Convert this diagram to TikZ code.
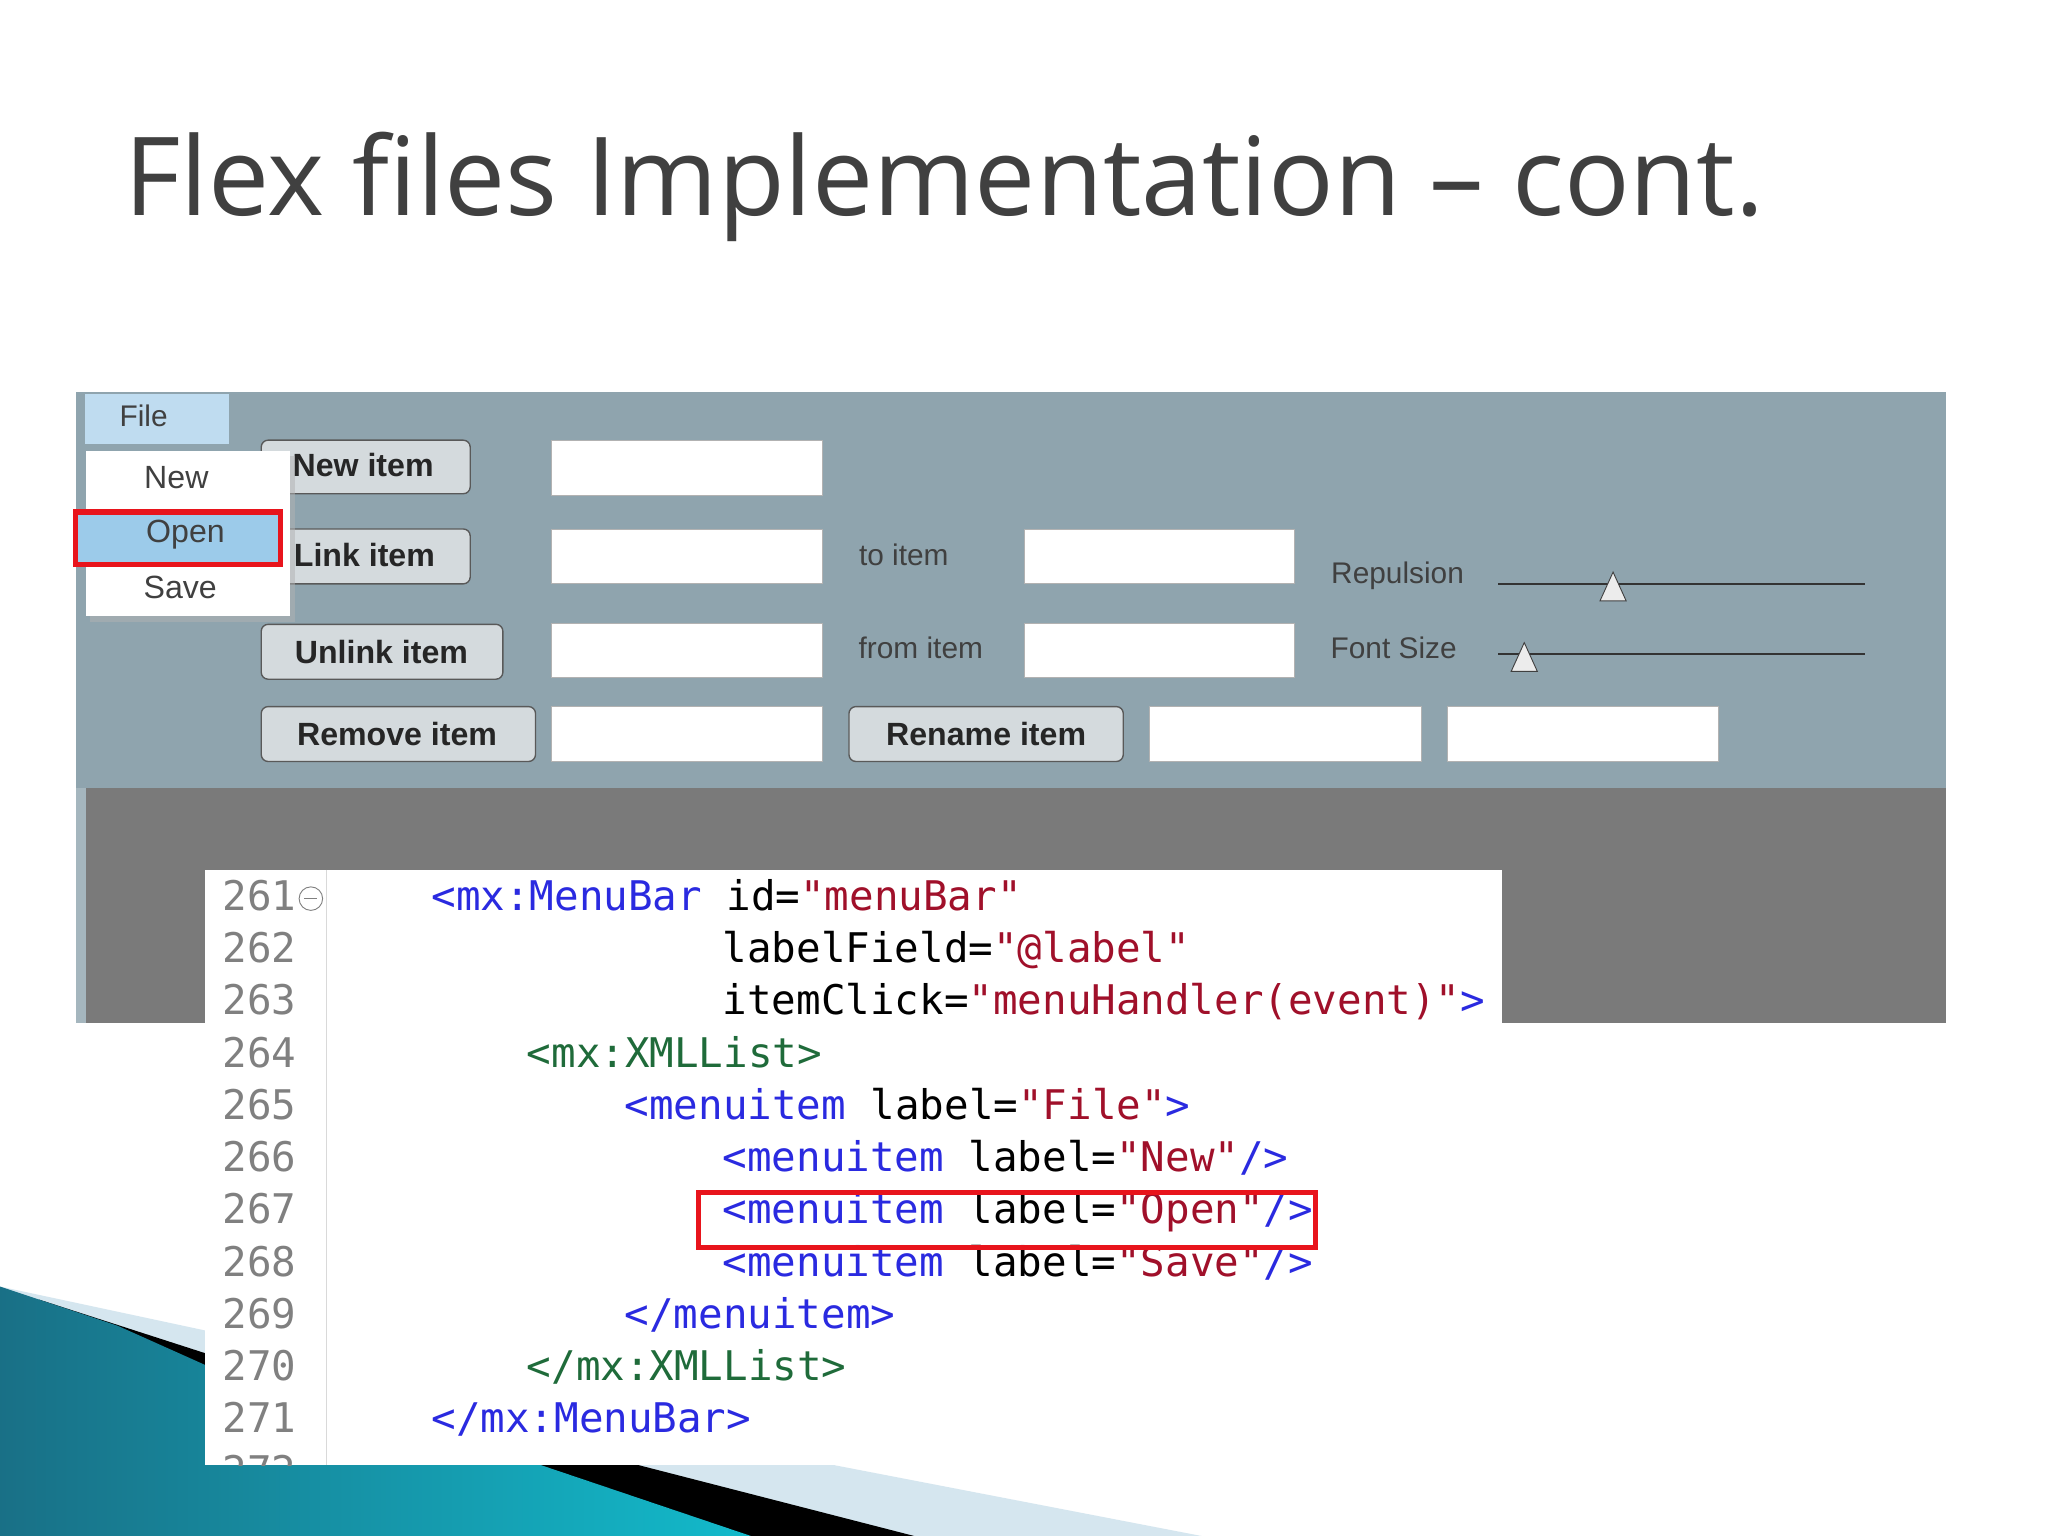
\documentclass[tikz,border=0pt]{standalone}
\usepackage{fontspec}
\setmainfont{Liberation Sans}
\newfontfamily\titlefont{Open Sans}
\newfontfamily\codefont{DejaVu Sans Mono}
\definecolor{panel}{HTML}{8FA4AE}
\definecolor{darkarea}{HTML}{7A7A7A}
\definecolor{tabblue}{HTML}{BFDCF0}
\definecolor{selblue}{HTML}{9CCBEA}
\definecolor{btn}{HTML}{D4DADD}
\definecolor{tagblue}{HTML}{2A2AE0}
\definecolor{xmlgreen}{HTML}{1F6B3A}
\definecolor{valred}{HTML}{A0102A}
\definecolor{teal}{HTML}{1F8CA8}
\definecolor{lightstripe}{HTML}{D5E6EF}
\definecolor{hlred}{HTML}{E8141C}
\begin{document}
\begin{tikzpicture}[x=0.02cm,y=-0.02cm,
  btnbox/.style={draw=gray!70!black,fill=btn,rounded corners=3pt,line width=0.6pt},
  fieldbox/.style={fill=white,draw=gray!60,line width=0.4pt},
  btntext/.style={font=\fontsize{14}{16}\selectfont\bfseries,text=black!85},
  uitext/.style={font=\fontsize{13}{15}\selectfont,text=black!75},
  menutext/.style={font=\fontsize{14}{16}\selectfont,text=black!75},
  code/.style={font=\codefont\fontsize{17.8}{19}\selectfont,anchor=base west,inner sep=0pt},
  lnum/.style={font=\codefont\fontsize{17.8}{19}\selectfont,anchor=base west,inner sep=0pt,text=gray},
  redbox/.style={draw=hlred,line width=2.2pt}]
\useasboundingbox (0,0) rectangle (1568,1176);
\fill[white] (0,0) rectangle (1568,1176);
% bottom-left decoration
\fill[lightstripe] (0,985) -- (640,1122) -- (920,1176) -- (0,1176) -- cycle;
\fill[black] (30,995) -- (157,1036) -- (490,1122) -- (700,1176) -- (0,1176) -- cycle;
\shade[left color=teal!80!black,right color=teal!60!cyan] (0,985) -- (90,1015) -- (157,1045) -- (415,1122) -- (575,1176) -- (0,1176) -- cycle;
% title
\node[anchor=base west,inner sep=0pt,font=\titlefont\fontsize{47.5}{50}\selectfont,text=black!75] (title) at (95,165) {Flex files Implementation – cont.};
% panels
\fill[panel] (58,300) rectangle (1490,603);
\fill[darkarea] (58,603) rectangle (1490,783);
\fill[panel!80!white] (58,603) rectangle (66,783);
% file tab
\fill[tabblue] (65,302) rectangle (175,340);
\node[uitext] (file) at (110,318) {File};
% buttons
\draw[btnbox] (200,337) rectangle (360,378);
\draw[btnbox] (200,405) rectangle (360,447);
\draw[btnbox] (200,478) rectangle (385,520);
\draw[btnbox] (200,541) rectangle (410,583);
\draw[btnbox] (650,541) rectangle (860,583);
\node[btntext] (bnew) at (278,356) {New item};
\node[btntext] (blink) at (279,425) {Link item};
\node[btntext] (bunlink) at (292,499) {Unlink item};
\node[btntext] (bremove) at (304,562) {Remove item};
\node[btntext] (brename) at (755,562) {Rename item};
% fields
\foreach \x/\y/\w in {422/337/208,422/405/208,422/477/208,422/541/208,784/405/207,784/477/207,880/541/208,1108/541/208}
  \draw[fieldbox] (\x,\y) rectangle ++(\w,42);
\node[uitext] (toitem) at (692,425) {to item};
\node[uitext] (fromitem) at (705,496) {from item};
\node[uitext] (repulsion) at (1070,441) {Repulsion};
\node[uitext] (fontsize) at (1067,496) {Font Size};
% sliders
\draw[gray!40!black,line width=0.8pt] (1147,447) -- (1428,447);
\draw[gray!40!black,line width=0.8pt] (1147,501) -- (1428,501);
\filldraw[fill=gray!15,draw=gray!50!black] (1235,438) -- (1245,460) -- (1225,460) -- cycle;
\filldraw[fill=gray!15,draw=gray!50!black] (1167,492) -- (1177,514) -- (1157,514) -- cycle;
% dropdown menu
\fill[black!30,opacity=0.5] (69,349) rectangle (226,476);
\fill[white] (66,345) rectangle (222,472);
\fill[selblue] (60,392) rectangle (215,432);
\node[menutext] (mnew) at (135,366) {New};
\node[menutext] (mopen) at (142,409) {Open};
\node[menutext] (msave) at (138,450) {Save};
\draw[redbox] (58,392) rectangle (215,432);
% code box
\fill[white] (157,666) rectangle (1150,1122);
\draw[gray!30] (250,666) -- (250,1122);
\foreach \n [count=\i from 0] in {261,...,271}
  \node[lnum] at (170,{697+40*\i}) {\n};
\begin{scope}
\clip (157,666) rectangle (1150,1122);
\node[lnum] at (170,1137) {272};
\end{scope}
\draw[gray] (238,688) circle (9);
\draw[gray] (233,688) -- (243,688);
\node[code] (c261) at (330,697) {\textcolor{tagblue}{<mx:MenuBar} id=\textcolor{valred}{"menuBar"}};
\node[code] (c262) at (553,737) {labelField=\textcolor{valred}{"@label"}};
\node[code] (c263) at (553,777) {itemClick=\textcolor{valred}{"menuHandler(event)"}\textcolor{tagblue}{>}};
\node[code] (c264) at (403,817) {\textcolor{xmlgreen}{<mx:XMLList>}};
\node[code] (c265) at (478,857) {\textcolor{tagblue}{<menuitem} label=\textcolor{valred}{"File"}\textcolor{tagblue}{>}};
\node[code] (c266) at (553,897) {\textcolor{tagblue}{<menuitem} label=\textcolor{valred}{"New"}\textcolor{tagblue}{/>}};
\node[code] (c267) at (553,937) {\textcolor{tagblue}{<menuitem} label=\textcolor{valred}{"Open"}\textcolor{tagblue}{/>}};
\node[code] (c268) at (553,977) {\textcolor{tagblue}{<menuitem} label=\textcolor{valred}{"Save"}\textcolor{tagblue}{/>}};
\node[code] (c269) at (478,1017) {\textcolor{tagblue}{</menuitem>}};
\node[code] (c270) at (403,1057) {\textcolor{xmlgreen}{</mx:XMLList>}};
\node[code] (c271) at (330,1097) {\textcolor{tagblue}{</mx:MenuBar>}};
\draw[redbox] (535,913) rectangle (1007,955);
\end{tikzpicture}
\end{document}
